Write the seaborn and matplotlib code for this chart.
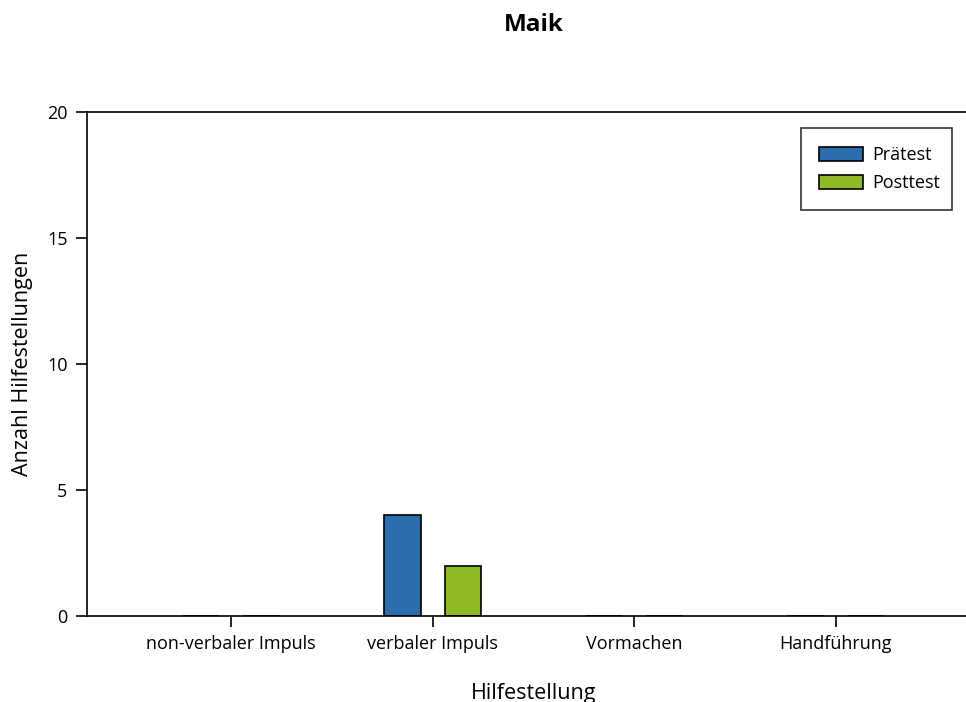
import matplotlib
matplotlib.use("Agg")
import matplotlib.pyplot as plt
import seaborn as sns
import pandas as pd

categories = ["non-verbaler Impuls", "verbaler Impuls", "Vormachen", "Handführung"]
pretest = [0, 4, 0, 0]
posttest = [0, 2, 0, 0]
series_names = ["Prätest", "Posttest"]
colors = ["#2B6DAD", "#8DBA25"]

df = pd.DataFrame({
    "Hilfestellung": categories * 2,
    "Anzahl": pretest + posttest,
    "Test": [series_names[0]] * len(categories) + [series_names[1]] * len(categories),
})

sns.set_theme(style="white")
plt.rcParams["font.family"] = ["Open Sans", "DejaVu Sans"]
plt.rcParams["text.color"] = "black"
plt.rcParams["axes.labelcolor"] = "black"

fig = plt.figure(figsize=(9.66, 7.02), dpi=100)
ax = fig.add_axes([87 / 966, 1 - 616 / 702, (980 - 87) / 966, (616 - 112) / 702])

sns.barplot(data=df, x="Hilfestellung", y="Anzahl", hue="Test", order=categories,
            hue_order=series_names, palette=colors, saturation=1, width=0.6, gap=0.4,
            edgecolor="black", linewidth=1.2, ax=ax, legend=True)

ax.set_xlim(-0.715, 3.715)
ax.set_ylim(0, 20)
ax.set_yticks([0, 5, 10, 15, 20])
for s in ["left", "bottom", "top", "right"]:
    ax.spines[s].set_visible(True)
    ax.spines[s].set_color("black")
    ax.spines[s].set_linewidth(1.2)
ax.tick_params(axis="both", direction="out", length=8, width=1.2, color="black",
               labelsize=13, left=True, bottom=True, colors="black", labelcolor="black")
ax.tick_params(axis="x", pad=6)
ax.tick_params(axis="y", pad=6)
ax.set_xlabel("Hilfestellung", fontsize=15.5, labelpad=21, color="black")
ax.set_ylabel("Anzahl Hilfestellungen", fontsize=15.5, labelpad=10, color="black")
ax.set_title("Maik", fontsize=17.5, fontweight="bold", pad=58, color="black")

leg = ax.legend(loc="upper left",
                bbox_to_anchor=(801 / 966, 1 - 208 / 702, 151 / 966, 80 / 702),
                bbox_transform=fig.transFigure, mode="expand", frameon=True, fancybox=False,
                fontsize=13, handlelength=2.45, handleheight=0.85, borderpad=1.0,
                labelspacing=0.55, handletextpad=0.5, borderaxespad=0, title=None)
leg.get_frame().set_edgecolor("black")
leg.get_frame().set_linewidth(1.2)
for t in leg.get_texts():
    t.set_color("black")

fig.savefig("out.png", dpi=100)
